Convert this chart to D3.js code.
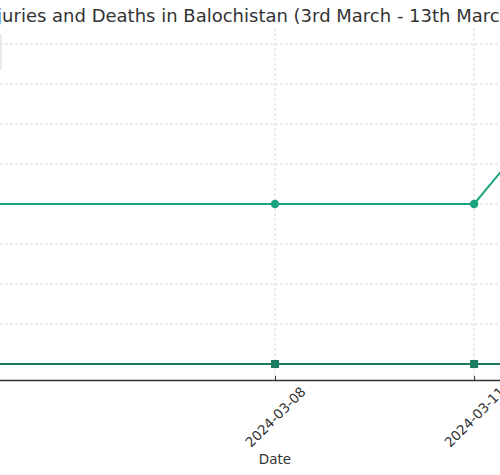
<!DOCTYPE html>
<html>
<head>
<meta charset="utf-8">
<script src="https://d3js.org/d3.v7.min.js"></script>
<style>
  body { margin: 0; background: #fff; }
  svg { display: block; font-family: "DejaVu Sans", sans-serif; }
</style>
</head>
<body>
<svg id="chart" width="500" height="475"></svg>
<script>
// data
var dates = ['2024-03-03', '2024-03-08', '2024-03-11', '2024-03-13'];
var injuries = [4, 4, 4, 8];
var deaths = [0, 0, 0, 0];
var yTicks = [0, 1, 2, 3, 4, 5, 6, 7, 8];
var titleText = 'Injuries and Deaths in Balochistan (3rd March - 13th March 2024)';
var seriesNames = ['Injuries', 'Deaths'];

var colInj = '#19a37f';
var colDeath = '#197b5f';

var parse = d3.timeParse('%Y-%m-%d');
var fmt = d3.timeFormat('%Y-%m-%d');
var days = dates.map(parse);

// the plot area runs past the left and right edges of the window
var plotL = -90, plotR = 640, plotT = 28, plotB = 380;

var svg = d3.select('#chart');

var x = d3.scaleTime()
  .domain([d3.timeHour.offset(days[0], -12), d3.timeHour.offset(days[days.length - 1], 12)])
  .range([plotL, plotR]);
var y = d3.scaleLinear()
  .domain([-0.4, 8.4])
  .range([plotB, plotT]);

// grid
var grid = svg.append('g');
grid.selectAll('line.h')
  .data(yTicks)
  .enter().append('line')
  .attr('x1', plotL).attr('x2', plotR)
  .attr('y1', function(d) { return y(d); })
  .attr('y2', function(d) { return y(d); })
  .attr('stroke', '#cfcfcf')
  .attr('stroke-width', 0.8)
  .attr('stroke-dasharray', '3,2');
grid.selectAll('line.v')
  .data(days)
  .enter().append('line')
  .attr('x1', function(d) { return x(d); })
  .attr('x2', function(d) { return x(d); })
  .attr('y1', plotT).attr('y2', plotB)
  .attr('stroke', '#cfcfcf')
  .attr('stroke-width', 0.8)
  .attr('stroke-dasharray', '3,2');

// x axis
var xAxis = d3.axisBottom(x)
  .tickValues(days)
  .tickFormat(fmt)
  .tickSizeInner(-4)
  .tickSizeOuter(0);
var gx = svg.append('g')
  .attr('transform', 'translate(0,' + plotB + ')')
  .call(xAxis)
  .attr('font-family', '"DejaVu Sans", sans-serif')
  .attr('font-size', 13.5);
gx.select('.domain').attr('stroke', '#333').attr('stroke-width', 1.3);
gx.selectAll('.tick line').attr('stroke', '#333');
gx.selectAll('.tick text')
  .attr('fill', '#333')
  .attr('text-anchor', 'middle')
  .attr('dy', '0.35em')
  .attr('y', 0)
  .attr('transform', 'translate(0,37) rotate(-45)');

// lines
var rows = days.map(function(d, i) { return {date: d, inj: injuries[i], dth: deaths[i]}; });

var lineInj = d3.line()
  .x(function(d) { return x(d.date); })
  .y(function(d) { return y(d.inj); });
var lineDeath = d3.line()
  .x(function(d) { return x(d.date); })
  .y(function(d) { return y(d.dth); });

svg.append('path')
  .datum(rows)
  .attr('d', lineInj)
  .attr('fill', 'none')
  .attr('stroke', colInj)
  .attr('stroke-width', 2);
svg.selectAll('circle.inj')
  .data(rows)
  .enter().append('circle')
  .attr('cx', function(d) { return x(d.date); })
  .attr('cy', function(d) { return y(d.inj); })
  .attr('r', 4.2)
  .attr('fill', colInj);

svg.append('path')
  .datum(rows)
  .attr('d', lineDeath)
  .attr('fill', 'none')
  .attr('stroke', colDeath)
  .attr('stroke-width', 2.2);
svg.selectAll('rect.dth')
  .data(rows)
  .enter().append('rect')
  .attr('x', function(d) { return x(d.date) - 4; })
  .attr('y', function(d) { return y(d.dth) - 4; })
  .attr('width', 8)
  .attr('height', 8)
  .attr('fill', colDeath);

// legend (upper left, mostly outside the window)
var lg = svg.append('g').attr('transform', 'translate(' + (plotL + 7) + ',34)');
lg.append('rect')
  .attr('width', 84).attr('height', 36)
  .attr('rx', 3)
  .attr('fill', '#fff').attr('fill-opacity', 0.8)
  .attr('stroke', '#d5d5d5');
[colInj, colDeath].forEach(function(c, i) {
  lg.append('line')
    .attr('x1', 6).attr('x2', 30)
    .attr('y1', 11 + i * 15).attr('y2', 11 + i * 15)
    .attr('stroke', c).attr('stroke-width', 2);
  lg.append('text')
    .attr('x', 36).attr('y', 11 + i * 15)
    .attr('dy', '0.35em')
    .attr('font-size', 11)
    .attr('fill', '#333')
    .text(seriesNames[i]);
});

// axis label
svg.append('text')
  .attr('x', (plotL + plotR) / 2)
  .attr('y', 464)
  .attr('text-anchor', 'middle')
  .attr('font-size', 13.5)
  .attr('fill', '#333')
  .text('Date');

// title, centred over the plot area
svg.append('text')
  .attr('x', (plotL + plotR) / 2)
  .attr('y', 22)
  .attr('text-anchor', 'middle')
  .attr('font-size', 18)
  .attr('fill', '#333')
  .text(titleText);
</script>
</body>
</html>
